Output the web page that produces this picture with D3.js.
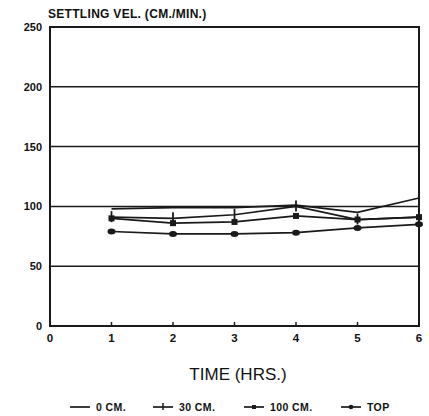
<!DOCTYPE html>
<html>
<head>
<meta charset="utf-8">
<script src="https://cdn.jsdelivr.net/npm/d3@7"></script>
<style>
body { margin: 0; background: #fff; }
text { font-family: "Liberation Sans", Arial, sans-serif; fill: #111; }
</style>
</head>
<body>
<div id="chart"></div>
<script>
// data
var hours = [1, 2, 3, 4, 5, 6];
var cm0 = [98, 99, 99, 101, 95, 107];
var cm30 = [91, 90, 93, 100, 89, 91];
var cm100 = [90, 86, 87, 92, 89, 91];
var top_ = [79, 77, 77, 78, 82, 85];
var yTicks = [0, 50, 100, 150, 200, 250];
var xTicks = [0, 1, 2, 3, 4, 5, 6];
var seriesNames = ["0 CM.", "30 CM.", "100 CM.", "TOP"];

var svgWidth = 429, svgHeight = 416;
var margin = { top: 27, right: 10, bottom: 90, left: 50 };
var width = svgWidth - margin.left - margin.right;
var height = svgHeight - margin.top - margin.bottom;

var svg = d3.select("#chart").append("svg")
    .attr("width", svgWidth)
    .attr("height", svgHeight);

var g = svg.append("g")
    .attr("transform", `translate(${margin.left}, ${margin.top})`);

var x = d3.scaleLinear().domain([0, 6]).range([0, width]);
var y = d3.scaleLinear().domain([0, 250]).range([height, 0]);

// horizontal grid lines
g.selectAll(".grid")
    .data(yTicks.filter(d => d > 0 && d < 250))
    .enter().append("line")
    .attr("x1", 0).attr("x2", width)
    .attr("y1", d => y(d)).attr("y2", d => y(d))
    .attr("stroke", "#1a1a1a")
    .attr("stroke-width", 1.5);

// frame
g.append("rect")
    .attr("width", width).attr("height", height)
    .attr("fill", "none")
    .attr("stroke", "#1a1a1a")
    .attr("stroke-width", 2);

// x axis ticks (pointing up)
g.selectAll(".xtick")
    .data(xTicks.slice(1, 6))
    .enter().append("line")
    .attr("x1", d => x(d)).attr("x2", d => x(d))
    .attr("y1", height).attr("y2", height - 4)
    .attr("stroke", "#1a1a1a").attr("stroke-width", 1.5);

g.selectAll(".xlab")
    .data(xTicks)
    .enter().append("text")
    .attr("x", d => x(d))
    .attr("y", height + 16)
    .attr("text-anchor", "middle")
    .attr("font-size", 11.5)
    .attr("font-weight", "bold")
    .text(d => d);

g.selectAll(".ylab")
    .data(yTicks)
    .enter().append("text")
    .attr("x", -8)
    .attr("y", d => y(d) + 4)
    .attr("text-anchor", "end")
    .attr("font-size", 11)
    .attr("font-weight", "bold")
    .text(d => d);

// titles
svg.append("text")
    .attr("x", 48).attr("y", 18)
    .attr("font-size", 12)
    .attr("font-weight", "bold")
    .attr("letter-spacing", 0.3)
    .text("SETTLING VEL. (CM./MIN.)");

svg.append("text")
    .attr("x", 238).attr("y", 380)
    .attr("text-anchor", "middle")
    .attr("font-size", 17)
    .text("TIME (HRS.)");

// lines
var line = d3.line()
    .x((d, i) => x(hours[i]))
    .y(d => y(d));

var allSeries = [cm0, cm30, cm100, top_];
g.selectAll(".series")
    .data(allSeries)
    .enter().append("path")
    .attr("d", d => line(d))
    .attr("fill", "none")
    .attr("stroke", "#1a1a1a")
    .attr("stroke-width", 1.7);

// markers
function drawMarker(sel, type) {
    if (type == 1) {
        sel.append("line").attr("x1", 0).attr("x2", 0).attr("y1", -6).attr("y2", 5)
            .attr("stroke", "#1a1a1a").attr("stroke-width", 1.8);
    } else if (type == 2) {
        sel.append("rect").attr("x", -3).attr("y", -3).attr("width", 6).attr("height", 6)
            .attr("fill", "#1a1a1a");
    } else if (type == 3) {
        sel.append("ellipse").attr("rx", 4).attr("ry", 3)
            .attr("fill", "#1a1a1a");
    }
}

allSeries.forEach(function(s, k) {
    if (k == 0) return;
    s.forEach(function(v, i) {
        var m = g.append("g").attr("transform", `translate(${x(hours[i])}, ${y(v)})`);
        drawMarker(m, k);
    });
});

// legend
var legendX = [70, 153, 244, 341];
seriesNames.forEach(function(name, k) {
    var lg = svg.append("g").attr("transform", `translate(${legendX[k]}, 407)`);
    lg.append("line").attr("x1", 0).attr("x2", 20).attr("y1", 0).attr("y2", 0)
        .attr("stroke", "#1a1a1a").attr("stroke-width", 1.7);
    var m = lg.append("g").attr("transform", "translate(10,0)");
    if (k == 1) {
        m.append("line").attr("x1", 0).attr("x2", 0).attr("y1", -4).attr("y2", 3)
            .attr("stroke", "#1a1a1a").attr("stroke-width", 1.5);
    } else if (k == 2) {
        m.append("rect").attr("x", -2).attr("y", -2).attr("width", 4).attr("height", 4).attr("fill", "#1a1a1a");
    } else if (k == 3) {
        m.append("circle").attr("r", 2.3).attr("fill", "#1a1a1a");
    }
    lg.append("text").attr("x", 26).attr("y", 4)
        .attr("font-size", 10.5)
        .attr("font-weight", "bold")
        .attr("letter-spacing", 0.4)
        .text(name);
});
</script>
</body>
</html>
